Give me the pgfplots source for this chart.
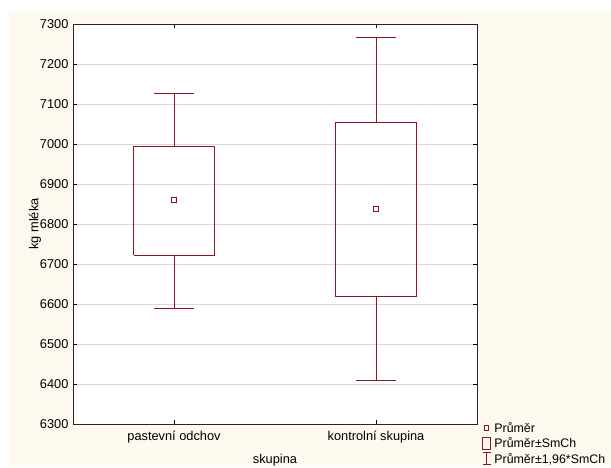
\documentclass[border=0pt]{standalone}
\usepackage{pgfplots}
\pgfplotsset{compat=1.18}
\usepackage{fontspec}
\setmainfont{Liberation Sans}
\definecolor{cream}{RGB}{253,249,238}
\definecolor{boxc}{RGB}{140,22,32}
\begin{document}
\begin{tikzpicture}
\path[use as bounding box] (0pt,0pt) rectangle (611pt,467pt);
\fill[cream] (9pt,0pt) rectangle (611pt,456pt);
\begin{axis}[
  at={(73pt,43pt)}, anchor=south west,
  width=404pt, height=400pt, scale only axis,
  xmin=0.5, xmax=2.5, ymin=6300, ymax=7300,
  ytick={6300,6400,...,7300},
  xtick={1,2}, xticklabels={pastevní odchov, kontrolní skupina},
  tick align=inside, major tick length=4pt,
  tick style={black, line width=0.8pt},
  ymajorgrids, grid style={draw=black!15, line width=0.8pt},
  axis background/.style={fill=white},
  axis line style={black!85, line width=0.9pt},
  /pgf/number format/1000 sep={},
  /pgf/number format/assume math mode=true,
  ticklabel style={font=\fontsize{12.8}{15}\selectfont},
  yticklabel style={xshift=-1pt},
  xticklabel style={yshift=-4pt},
  xlabel={skupina}, ylabel={kg mléka},
  label style={font=\fontsize{12.8}{15}\selectfont},
  xlabel style={at={(axis description cs:0.5,0)}, anchor=center, yshift=-36pt},
  ylabel style={at={(axis description cs:0,0.5)}, anchor=center, yshift=38pt},
  legend style={at={(axis description cs:1.013,0.0075)}, anchor=north west,
    draw=none, fill=none, font=\fontsize{12.4}{15}\selectfont,
    row sep=2pt, column sep=2pt, inner sep=0pt,
    nodes={inner sep=1pt}},
  legend cell align=left,
]
\addlegendimage{legend image code/.code={\draw[boxc, line width=0.9pt, fill=white] (1.5pt,-2.5pt) rectangle (6pt,2pt);}}
\addlegendentry{Průměr}
\addlegendimage{legend image code/.code={\draw[boxc, line width=0.9pt] (0pt,-6pt) rectangle (7.5pt,6pt);}}
\addlegendentry{Průměr±SmCh}
\addlegendimage{legend image code/.code={\draw[boxc, line width=0.9pt] (0pt,-6pt)--(8pt,-6pt) (4pt,-6pt)--(4pt,6pt) (0pt,6pt)--(8pt,6pt);}}
\addlegendentry{Průměr±1,96*SmCh}

% boxes (mean +- SE)
\addplot[boxc, line width=1pt, forget plot] coordinates {(0.8,6722) (1.2,6722) (1.2,6995) (0.8,6995) (0.8,6722)};
\addplot[boxc, line width=1pt, forget plot] coordinates {(1.8,6618) (2.2,6618) (2.2,7055) (1.8,7055) (1.8,6618)};
% whiskers (mean +- 1.96 SE)
\addplot[boxc, line width=1pt, forget plot] coordinates {(1,6995) (1,7127)};
\addplot[boxc, line width=1pt, forget plot] coordinates {(0.9,7127) (1.1,7127)};
\addplot[boxc, line width=1pt, forget plot] coordinates {(1,6722) (1,6590)};
\addplot[boxc, line width=1pt, forget plot] coordinates {(0.9,6590) (1.1,6590)};
\addplot[boxc, line width=1pt, forget plot] coordinates {(2,7055) (2,7265)};
\addplot[boxc, line width=1pt, forget plot] coordinates {(1.9,7265) (2.1,7265)};
\addplot[boxc, line width=1pt, forget plot] coordinates {(2,6618) (2,6410)};
\addplot[boxc, line width=1pt, forget plot] coordinates {(1.9,6410) (2.1,6410)};
% means
\addplot[only marks, forget plot, mark=square*, mark size=2.5pt,
  mark options={draw=boxc, fill=white, line width=0.9pt}]
  coordinates {(1,6860) (2,6837)};
\end{axis}
\end{tikzpicture}
\end{document}
